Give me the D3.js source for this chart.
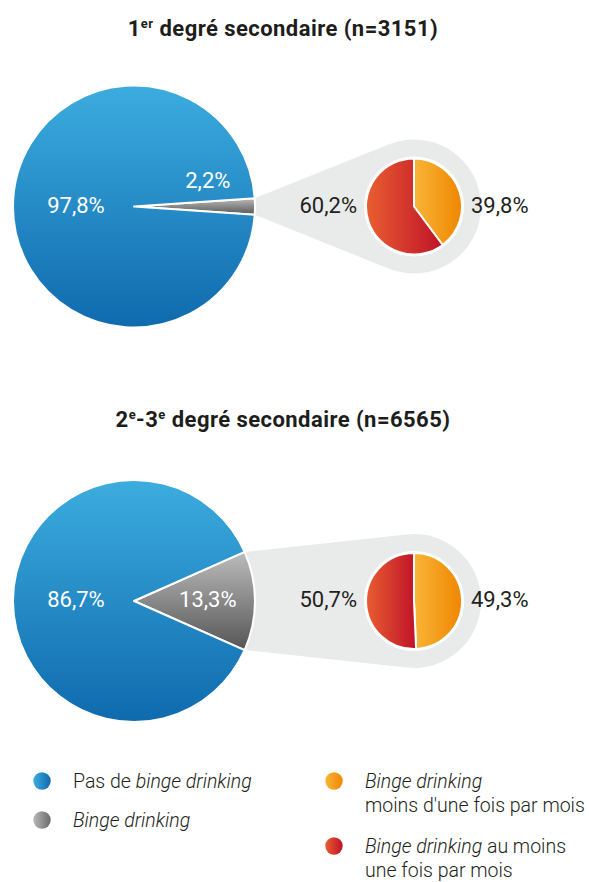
<!DOCTYPE html>
<html><head><meta charset="utf-8">
<script src="https://cdn.jsdelivr.net/npm/d3@7"></script>
<style>
html,body{margin:0;padding:0;background:#fff;}
svg{display:block;font-family:Roboto,"Open Sans",sans-serif;}
</style>
</head><body>
<svg id="chart" width="589" height="882"></svg>
<script>
// ---------- DATA ----------
const groupLevels = ["1", "2"];
const groupTitleParts = [
  [{t:"1"},{t:"er",sup:true},{t:" degré secondaire"}],
  [{t:"2"},{t:"e",sup:true},{t:"-3"},{t:"e",sup:true},{t:" degré secondaire"}]
];
const sampleSizes = [3151, 6565];
const noBinge = [97.8, 86.7];          // Pas de binge drinking
const binge = [2.2, 13.3];             // Binge drinking
const lessThanMonthly = [39.8, 49.3];  // Binge drinking moins d'une fois par mois
const atLeastMonthly = [60.2, 50.7];   // Binge drinking au moins une fois par mois
const legendLabels = [
  [[{t:"Pas de "},{t:"binge drinking",i:true}]],
  [[{t:"Binge drinking",i:true}]],
  [[{t:"Binge drinking",i:true}],[{t:"moins d'une fois par mois"}]],
  [[{t:"Binge drinking",i:true},{t:" au moins"}],[{t:"une fois par mois"}]]
];
const legendKeys = ["blue","gray","orange","red"];

// ---------- LAYOUT ----------
const svg = d3.select("#chart");
const rowCy = [206.5, 601];
const titleY = [36, 427];
const bigCx = 134, bigR = 121;
const smallCx = 414, smallR = 48, bgR = 67;

const fr = d3.formatLocale({decimal:",", thousands:" ", grouping:[3], currency:["","€"]});
const pct = v => fr.format(".1f")(v) + "%";

// gradients
const defs = svg.append("defs");
function grad(id, stops, vertical){
  const g = defs.append("linearGradient").attr("id", id)
    .attr("x1",0).attr("y1",0).attr("x2", vertical?0:1).attr("y2", vertical?1:0);
  g.selectAll("stop").data(stops).join("stop")
    .attr("offset",(d,i)=>i/(stops.length-1)).attr("stop-color",d=>d);
}
grad("blueV", ["#3cacde","#0f6aae"], true);
grad("grayV", ["#bcbcbc","#555556"], true);
grad("orangeH", ["#f8b537","#ef8600"], false);
grad("redH", ["#e95e30","#bf1229"], false);
grad("blueH", ["#3cacde","#0f6aae"], false);
grad("grayH", ["#b8b8b8","#6a6a6a"], false);
const fillFor = {blue:"url(#blueV)", gray:"url(#grayV)", orange:"url(#orangeH)", red:"url(#redH)"};
const legendFill = {blue:"url(#blueH)", gray:"url(#grayH)", orange:"url(#orangeH)", red:"url(#redH)"};

const bigArc = d3.arc().innerRadius(0).outerRadius(bigR);
const smallArc = d3.arc().innerRadius(0).outerRadius(smallR);
const TAU = Math.PI*2;

groupLevels.forEach((lvl, gi) => {
  const cy = rowCy[gi];

  // title
  const title = svg.append("text")
    .attr("x", 283).attr("y", titleY[gi])
    .attr("text-anchor","middle")
    .attr("font-size", 22).attr("letter-spacing", 0.45)
    .attr("font-weight", 700).attr("fill","#1d1d1b");
  let raised = false;
  groupTitleParts[gi].concat([{t:` (n=${sampleSizes[gi]})`}]).forEach(p => {
    const ts = title.append("tspan").text(p.t);
    if (p.sup) { ts.attr("font-size", 13).attr("dy", -8); raised = true; }
    else if (raised) { ts.attr("dy", 8); raised = false; }
  });

  // funnel background
  const a = binge[gi]/100*TAU;
  const half = a/2;
  const pTop = [bigCx + bigR*Math.cos(-half), cy + bigR*Math.sin(-half)];
  const pBot = [bigCx + bigR*Math.cos(half), cy + bigR*Math.sin(half)];
  function tangent(P, upper){
    const dx = P[0]-smallCx, dy = P[1]-cy;
    const d = Math.hypot(dx,dy);
    const th = Math.atan2(dy,dx);
    const off = Math.acos(bgR/d);
    const ang = upper ? th + off : th - off;
    return [smallCx + bgR*Math.cos(ang), cy + bgR*Math.sin(ang)];
  }
  const tTop = tangent(pTop, true), tBot = tangent(pBot, false);
  const path = d3.path();
  path.moveTo(bigCx, cy);
  path.lineTo(pTop[0], pTop[1]);
  path.lineTo(tTop[0], tTop[1]);
  path.arc(smallCx, cy, bgR, Math.atan2(tTop[1]-cy, tTop[0]-smallCx), Math.atan2(tBot[1]-cy, tBot[0]-smallCx), false);
  path.lineTo(pBot[0], pBot[1]);
  path.closePath();
  svg.append("path").attr("d", path.toString()).attr("fill","#e9eaea");

  // big pie
  const bigData = [{k:"gray", v:binge[gi]}, {k:"blue", v:noBinge[gi]}];
  const bigPie = d3.pie().sort(null).value(d=>d.v)
    .startAngle(Math.PI/2 - half).endAngle(Math.PI/2 - half + TAU);
  const gBig = svg.append("g").attr("transform",`translate(${bigCx},${cy})`);
  gBig.selectAll("path").data(bigPie(bigData)).join("path")
    .attr("d", bigArc).attr("fill", d=>fillFor[d.data.k])
    .attr("stroke","#fff").attr("stroke-width",2).attr("stroke-linejoin","round");
  // labels big pie
  gBig.append("text").attr("x", -bigR*0.48).attr("y", 6)
    .attr("text-anchor","middle").attr("font-size",22).attr("font-weight",400)
    .attr("fill","#fff").text(pct(noBinge[gi]));
  const smallSlice = a < 0.3;
  gBig.append("text").attr("x", bigR*0.61).attr("y", smallSlice ? -18.5 : 6)
    .attr("text-anchor","middle").attr("font-size",22).attr("font-weight",400)
    .attr("fill","#fff").text(pct(binge[gi]));

  // small pie
  const gSmall = svg.append("g").attr("transform",`translate(${smallCx},${cy})`);
  gSmall.append("circle").attr("r", smallR+2).attr("fill","#fff");
  const smallData = [{k:"orange", v:lessThanMonthly[gi]}, {k:"red", v:atLeastMonthly[gi]}];
  const smallPie = d3.pie().sort(null).value(d=>d.v);
  gSmall.selectAll("path").data(smallPie(smallData)).join("path")
    .attr("d", smallArc).attr("fill", d=>fillFor[d.data.k])
    .attr("stroke","#fff").attr("stroke-width",2).attr("stroke-linejoin","round");
  gSmall.append("text").attr("x", -57).attr("y", 6)
    .attr("text-anchor","end").attr("font-size",22).attr("font-weight",400)
    .attr("fill","#231f20").text(pct(atLeastMonthly[gi]));
  gSmall.append("text").attr("x", 57).attr("y", 6)
    .attr("text-anchor","start").attr("font-size",22).attr("font-weight",400)
    .attr("fill","#231f20").text(pct(lessThanMonthly[gi]));
});

// legend
const legendPos = [[42,781],[42,820],[334,781],[334,846]];
legendKeys.forEach((k, i) => {
  const [x, y] = legendPos[i];
  svg.append("circle").attr("cx", x).attr("cy", y).attr("r", 8.7).attr("fill", legendFill[k]);
  legendLabels[i].forEach((line, li) => {
    const t = svg.append("text").attr("x", x+31).attr("y", y + 6.5 + li*24)
      .attr("font-size", 19.5).attr("font-weight",300).attr("fill","#231f20");
    line.forEach(p => t.append("tspan").text(p.t).attr("font-style", p.i ? "italic" : "normal"));
  });
});
</script>
</body></html>
